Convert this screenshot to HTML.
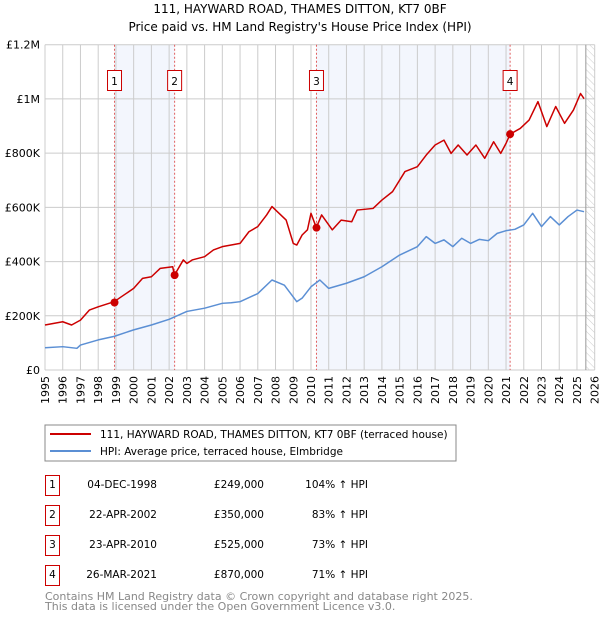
<!DOCTYPE html>
<html><head><meta charset="utf-8">
<style>
body{margin:0;background:#fff;font-family:"Liberation Sans","DejaVu Sans",sans-serif;}
svg{display:block}
</style></head>
<body>
<svg id="c" width="600" height="620" xmlns="http://www.w3.org/2000/svg" font-family="'DejaVu Sans','Liberation Sans',sans-serif">
<defs>
<pattern id="hatch" width="5" height="5" patternUnits="userSpaceOnUse" patternTransform="rotate(-45)">
<line x1="0" y1="0" x2="0" y2="5" stroke="#ccc" stroke-width="1"/>
</pattern>
</defs>
<text x="300" y="13" text-anchor="middle" font-size="12">111, HAYWARD ROAD, THAMES DITTON, KT7 0BF</text>
<text x="300" y="31" text-anchor="middle" font-size="12">Price paid vs. HM Land Registry's House Price Index (HPI)</text>
<g id="plot"></g>
<g>
<rect x="45" y="425" width="411" height="36" fill="#fff" stroke="#888"/>
<line x1="50" y1="434" x2="91" y2="434" stroke="#cc0000" stroke-width="2"/>
<text x="100" y="438" font-size="10.5">111, HAYWARD ROAD, THAMES DITTON, KT7 0BF (terraced house)</text>
<line x1="50" y1="451" x2="91" y2="451" stroke="#5b8fd4" stroke-width="2"/>
<text x="100" y="455" font-size="10.5">HPI: Average price, terraced house, Elmbridge</text>
</g>
<g id="table" font-size="10.5"></g>
<text x="45" y="600" font-size="11" fill="#888">Contains HM Land Registry data © Crown copyright and database right 2025.</text>
<text x="45" y="610" font-size="11" fill="#888">This data is licensed under the Open Government Licence v3.0.</text>
</svg>
<script>
const yTicks=[0,200000,400000,600000,800000,1000000,1200000];
const yTickLabels=["£0","£200K","£400K","£600K","£800K","£1M","£1.2M"];
const years=[1995,1996,1997,1998,1999,2000,2001,2002,2003,2004,2005,2006,2007,2008,2009,2010,2011,2012,2013,2014,2015,2016,2017,2018,2019,2020,2021,2022,2023,2024,2025,2026];
const hpiT=[1995,1996,1996.8,1997,1998,1998.9,2000,2001,2002,2003,2004,2005,2005.5,2006,2007,2007.8,2008.5,2009.2,2009.5,2010,2010.5,2011,2012,2013,2014,2015,2016,2016.5,2017,2017.5,2018,2018.5,2019,2019.5,2020,2020.5,2021,2021.5,2022,2022.5,2023,2023.5,2024,2024.5,2025,2025.4];
const hpiV=[82000,86000,80000,92000,111000,124000,148000,166000,187000,216000,228000,246000,248000,252000,282000,332000,313000,252000,265000,307000,332000,301000,320000,344000,381000,424000,455000,492000,467000,480000,455000,486000,467000,482000,477000,504000,514000,519000,535000,578000,529000,566000,535000,566000,590000,584000];
const propT=[1995,1996,1996.5,1997,1997.5,1998,1998.9,1999.3,2000,2000.5,2001,2001.5,2002.2,2002.3,2002.8,2003,2003.3,2004,2004.5,2005,2006,2006.5,2007,2007.5,2007.8,2008.2,2008.6,2009,2009.2,2009.5,2009.8,2010.0,2010.3,2010.6,2011.2,2011.7,2012.3,2012.6,2013.5,2014,2014.6,2015.3,2016,2016.5,2017,2017.5,2017.9,2018.3,2018.8,2019.3,2019.8,2020.3,2020.7,2021.0,2021.23,2021.8,2022.3,2022.8,2023.3,2023.8,2024.3,2024.8,2025.2,2025.4];
const propV=[166000,178000,166000,184000,221000,233000,252000,270000,301000,338000,344000,375000,381000,350000,406000,393000,406000,418000,443000,455000,467000,510000,529000,572000,603000,578000,553000,467000,461000,498000,517000,578000,525000,572000,517000,553000,547000,590000,596000,627000,658000,732000,750000,793000,830000,848000,799000,830000,793000,830000,781000,842000,799000,836000,870000,891000,922000,990000,898000,972000,910000,959000,1020000,1001000];
const saleLabels=["1","2","3","4"];
const saleT=[1998.92,2002.31,2010.31,2021.23];
const saleV=[249000,350000,525000,870000];
const saleDates=["04-DEC-1998","22-APR-2002","23-APR-2010","26-MAR-2021"];
const salePrices=["£249,000","£350,000","£525,000","£870,000"];
const salePct=["104%","83%","73%","71%"];
const dataEnd=2025.5;

const L=45,R=594.7,T=44.7,B=370;
const X=t=>L+(t-1995)/(2026-1995)*(R-L);
const Y=v=>B-v/1200000*(B-T);
const NS="http://www.w3.org/2000/svg";
const plot=document.getElementById('plot');
function mk(tag,attrs,parent){const e=document.createElementNS(NS,tag);for(const k in attrs)e.setAttribute(k,attrs[k]);(parent||plot).appendChild(e);return e;}

for(let i=0;i<saleT.length;i+=2){
  const r=mk('rect',{x:X(saleT[i]),y:T,width:X(saleT[i+1])-X(saleT[i]),height:B-T,fill:'#f3f6fd'});
  
  
}
const h=mk('rect',{x:X(dataEnd),y:T,width:R-X(dataEnd),height:B-T,fill:'url(#hatch)'});


years.forEach(y=>{
  const g=mk('line',{x1:X(y),x2:X(y),y1:T,y2:B,stroke:'#ccc','stroke-width':1});
  
  
  const t=mk('text',{x:0,y:0,'font-size':11,'text-anchor':'end',transform:`translate(${X(y)+4},${B+6}) rotate(-90)`});
  t.textContent=y;
  
  
});
yTicks.forEach((v,i)=>{
  const g=mk('line',{x1:L,x2:R,y1:Y(v),y2:Y(v),stroke:'#ccc','stroke-width':1});
  
  
  const t=mk('text',{x:L-5,y:Y(v)+4,'font-size':11,'text-anchor':'end'});
  t.textContent=yTickLabels[i];
  
  
});
const ed=mk('line',{x1:X(dataEnd),x2:X(dataEnd),y1:T,y2:B,stroke:'#999','stroke-width':1});


saleT.forEach((t,i)=>{
  const l=mk('line',{x1:X(t),x2:X(t),y1:T,y2:B,stroke:'#e06060','stroke-width':1,'stroke-dasharray':'2,2'});
  
  
  const b=mk('rect',{x:X(t)-7,y:70.5,width:14,height:20,fill:'#fff',stroke:'#cc0000'});
  
  
  const tx=mk('text',{x:X(t),y:85,'font-size':10.5,'text-anchor':'middle'});
  tx.textContent=saleLabels[i];
  
  
});
const hp=mk('polyline',{points:hpiT.map((t,i)=>X(t)+','+Y(hpiV[i])).join(' '),fill:'none',stroke:'#5b8fd4','stroke-width':1.5,'stroke-linejoin':'round'});


const pp=mk('polyline',{points:propT.map((t,i)=>X(t)+','+Y(propV[i])).join(' '),fill:'none',stroke:'#cc0000','stroke-width':1.5,'stroke-linejoin':'round'});


saleT.forEach((t,i)=>{
  const c=mk('circle',{cx:X(t),cy:Y(saleV[i]),r:4,fill:'#cc0000'});
  
  
});
const tb=document.getElementById('table');
saleT.forEach((t,i)=>{
  const y0=475+i*30;
  const b=mk('rect',{x:45.5,y:y0+0.5,width:14,height:20,fill:'#fff',stroke:'#cc0000'},tb);
  
  
  const n=mk('text',{x:52.5,y:y0+13,'text-anchor':'middle'},tb);n.textContent=saleLabels[i];
  
  
  const d=mk('text',{x:157,y:y0+13,'text-anchor':'end'},tb);d.textContent=saleDates[i];
  
  
  const p=mk('text',{x:264,y:y0+13,'text-anchor':'end'},tb);p.textContent=salePrices[i];
  
  
  const q=mk('text',{x:368,y:y0+13,'text-anchor':'end'},tb);q.textContent=salePct[i]+' ↑ HPI';
  
  
});
</script>
</body></html>
